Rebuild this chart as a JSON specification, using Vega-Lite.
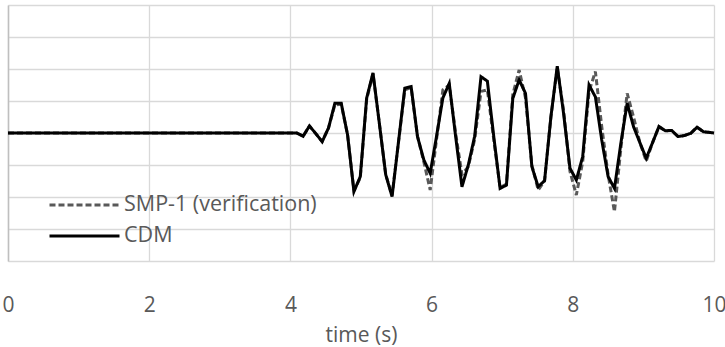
{
  "$schema": "https://vega.github.io/schema/vega-lite/v6.json",
  "width": 706,
  "height": 256,
  "autosize": "none",
  "padding": {"left": 8, "top": 5, "right": 11, "bottom": 86},
  "background": "#ffffff",
  "config": {
    "view": {"stroke": null},
    "font": "Open Sans",
    "axis": {"gridColor": "#d9d9d9", "gridWidth": 1.3, "labelColor": "#595959", "titleColor": "#595959"}
  },
  "datasets": {
    "cdm": [
      {"t": 0, "v": 0}, {"t": 4.09, "v": 0}, {"t": 4.18, "v": -0.1}, {"t": 4.27, "v": 0.22}, {"t": 4.36, "v": -0.02},
      {"t": 4.45, "v": -0.27}, {"t": 4.54, "v": 0.16}, {"t": 4.63, "v": 0.93}, {"t": 4.72, "v": 0.93}, {"t": 4.81, "v": -0.06},
      {"t": 4.90, "v": -1.83}, {"t": 4.99, "v": -1.36}, {"t": 5.08, "v": 1.09}, {"t": 5.17, "v": 1.88}, {"t": 5.26, "v": 0.3},
      {"t": 5.35, "v": -1.3}, {"t": 5.44, "v": -1.99}, {"t": 5.53, "v": -0.3}, {"t": 5.62, "v": 1.4}, {"t": 5.71, "v": 1.45},
      {"t": 5.80, "v": -0.11}, {"t": 5.89, "v": -0.84}, {"t": 5.98, "v": -1.26}, {"t": 6.07, "v": -0.1}, {"t": 6.16, "v": 1.1},
      {"t": 6.25, "v": 1.55}, {"t": 6.34, "v": -0.1}, {"t": 6.43, "v": -1.68}, {"t": 6.52, "v": -1.0}, {"t": 6.61, "v": -0.1},
      {"t": 6.70, "v": 1.76}, {"t": 6.79, "v": 1.62}, {"t": 6.88, "v": -0.1}, {"t": 6.97, "v": -1.73}, {"t": 7.06, "v": -1.63},
      {"t": 7.15, "v": 1.08}, {"t": 7.24, "v": 1.66}, {"t": 7.33, "v": 1.24}, {"t": 7.42, "v": -1.05}, {"t": 7.51, "v": -1.68},
      {"t": 7.60, "v": -1.49}, {"t": 7.69, "v": 0.51}, {"t": 7.78, "v": 2.09}, {"t": 7.87, "v": 0.6}, {"t": 7.96, "v": -1.1},
      {"t": 8.05, "v": -1.47}, {"t": 8.14, "v": -0.74}, {"t": 8.23, "v": 1.5}, {"t": 8.32, "v": 1.13}, {"t": 8.41, "v": -0.22},
      {"t": 8.50, "v": -1.36}, {"t": 8.59, "v": -1.73}, {"t": 8.68, "v": -0.33}, {"t": 8.77, "v": 0.93}, {"t": 8.86, "v": 0.2},
      {"t": 8.95, "v": -0.3}, {"t": 9.04, "v": -0.79}, {"t": 9.13, "v": -0.3}, {"t": 9.22, "v": 0.2}, {"t": 9.31, "v": 0.07},
      {"t": 9.40, "v": 0.08}, {"t": 9.49, "v": -0.11}, {"t": 9.58, "v": -0.08}, {"t": 9.67, "v": -0.01}, {"t": 9.76, "v": 0.18},
      {"t": 9.85, "v": 0.04}, {"t": 10.0, "v": 0}
    ],
    "smp": [
      {"t": 0, "v": 0}, {"t": 4.09, "v": 0}, {"t": 4.18, "v": -0.1}, {"t": 4.27, "v": 0.22}, {"t": 4.36, "v": -0.02},
      {"t": 4.45, "v": -0.27}, {"t": 4.54, "v": 0.16}, {"t": 4.63, "v": 0.88}, {"t": 4.72, "v": 0.9}, {"t": 4.81, "v": -0.06},
      {"t": 4.90, "v": -1.8}, {"t": 4.99, "v": -1.4}, {"t": 5.08, "v": 1.05}, {"t": 5.17, "v": 1.85}, {"t": 5.26, "v": 0.3},
      {"t": 5.35, "v": -1.3}, {"t": 5.44, "v": -1.95}, {"t": 5.53, "v": -0.3}, {"t": 5.62, "v": 1.35}, {"t": 5.71, "v": 1.42},
      {"t": 5.80, "v": -0.1}, {"t": 5.89, "v": -0.9}, {"t": 5.98, "v": -1.78}, {"t": 6.07, "v": -0.2}, {"t": 6.16, "v": 1.35},
      {"t": 6.25, "v": 1.5}, {"t": 6.34, "v": 0.0}, {"t": 6.43, "v": -1.3}, {"t": 6.52, "v": -1.05}, {"t": 6.61, "v": -0.2},
      {"t": 6.70, "v": 1.3}, {"t": 6.79, "v": 1.35}, {"t": 6.88, "v": -0.2}, {"t": 6.97, "v": -1.7}, {"t": 7.06, "v": -1.6},
      {"t": 7.15, "v": 1.2}, {"t": 7.24, "v": 1.97}, {"t": 7.33, "v": 1.1}, {"t": 7.42, "v": -1.0}, {"t": 7.51, "v": -1.78},
      {"t": 7.60, "v": -1.5}, {"t": 7.69, "v": 0.5}, {"t": 7.78, "v": 2.05}, {"t": 7.87, "v": 0.7}, {"t": 7.96, "v": -1.2},
      {"t": 8.05, "v": -1.94}, {"t": 8.14, "v": -0.9}, {"t": 8.23, "v": 1.3}, {"t": 8.32, "v": 1.92}, {"t": 8.41, "v": 0.2},
      {"t": 8.50, "v": -1.3}, {"t": 8.59, "v": -2.46}, {"t": 8.68, "v": -0.5}, {"t": 8.77, "v": 1.24}, {"t": 8.86, "v": 0.5},
      {"t": 8.95, "v": -0.3}, {"t": 9.04, "v": -0.88}, {"t": 9.13, "v": -0.3}, {"t": 9.22, "v": 0.2}, {"t": 9.31, "v": 0.07},
      {"t": 9.40, "v": 0.08}, {"t": 9.49, "v": -0.11}, {"t": 9.58, "v": -0.08}, {"t": 9.67, "v": -0.01}, {"t": 9.76, "v": 0.18},
      {"t": 9.85, "v": 0.04}, {"t": 10.0, "v": 0}
    ]
  },
  "encoding": {
    "x": {
      "field": "t", "type": "quantitative",
      "scale": {"domain": [0, 10], "nice": false, "zero": false},
      "axis": {"values": [0, 2, 4, 6, 8, 10], "title": "time (s)", "domain": false, "ticks": false,
               "labelFlush": false, "labelFontSize": 21, "labelPadding": 33, "titleFontSize": 21, "titlePadding": 9, "titleFontWeight": "normal"}
    },
    "y": {
      "field": "v", "type": "quantitative",
      "scale": {"domain": [-4, 4], "nice": false},
      "axis": {"values": [-4, -3, -2, -1, 0, 1, 2, 3, 4], "labels": false, "ticks": false, "title": null,
               "domain": true, "domainColor": "#bfbfbf", "domainWidth": 1.5}
    },
    "color": {
      "field": "series", "type": "nominal",
      "scale": {"domain": ["SMP-1 (verification)", "CDM"], "range": ["#595959", "#000000"]},
      "legend": {"title": null, "orient": "none", "legendX": 40, "legendY": 189, "symbolType": "stroke",
                 "symbolSize": 4900, "symbolStrokeWidth": 3, "labelFontSize": 21.5, "labelColor": "#595959",
                 "labelOffset": 3, "rowPadding": 9, "clipHeight": 22, "symbolOffset": 0, "labelLimit": 400}
    },
    "strokeDash": {
      "field": "series", "type": "nominal",
      "scale": {"domain": ["SMP-1 (verification)", "CDM"], "range": [[6, 3], [1, 0]]},
      "legend": {"title": null, "orient": "none", "legendX": 40, "legendY": 189, "symbolType": "stroke",
                 "symbolSize": 4900, "symbolStrokeWidth": 3, "labelFontSize": 21.5, "labelColor": "#595959",
                 "labelOffset": 3, "rowPadding": 9, "clipHeight": 22, "symbolOffset": 0, "labelLimit": 400}
    }
  },
  "layer": [
    {
      "data": {"name": "smp"},
      "transform": [{"calculate": "'SMP-1 (verification)'", "as": "series"}],
      "mark": {"type": "line", "strokeWidth": 3}
    },
    {
      "data": {"name": "cdm"},
      "transform": [{"calculate": "'CDM'", "as": "series"}],
      "mark": {"type": "line", "strokeWidth": 3}
    }
  ]
}
